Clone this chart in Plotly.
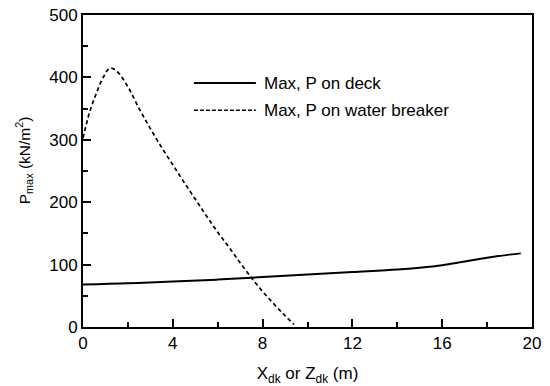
import plotly.graph_objects as go

# Data
deck_x = [0, 2, 4, 6, 8, 10, 12, 14, 15, 16, 17, 18, 19, 19.5]
deck_p = [68, 70, 73, 76, 80, 84, 88, 92, 95, 99, 105, 111, 116, 118]

wb_x = [0, 0.3, 0.6, 0.9, 1.2, 1.5, 2, 2.5, 3, 3.5, 4, 4.5, 5, 5.5, 6, 6.5, 7, 7.5, 8, 8.5, 9, 9.4]
wb_p = [303, 345, 375, 400, 415, 410, 385, 350, 318, 288, 260, 232, 205, 178, 152, 128, 103, 79, 57, 37, 18, 4]

legend_labels = ["Max, P on deck", "Max, P on water breaker"]
x_ticks = [0, 4, 8, 12, 16, 20]
y_ticks = [0, 100, 200, 300, 400, 500]

FONT = "Liberation Sans, Arial, sans-serif"

fig = go.Figure()
fig.add_trace(go.Scatter(x=deck_x, y=deck_p, mode="lines", name=legend_labels[0],
                         line=dict(color="black", width=2), line_shape="spline", showlegend=False))
fig.add_trace(go.Scatter(x=wb_x, y=wb_p, mode="lines", name=legend_labels[1],
                         line=dict(color="black", width=1.7, dash="4px,3px"), line_shape="spline",
                         showlegend=False))

# manual legend
legend_rows = [(0.782, "solid", 2), (0.695, "4px,2px", 1.5)]
for (yy, dash, w), label in zip(legend_rows, legend_labels):
    fig.add_shape(type="line", xref="paper", yref="paper", x0=0.247, x1=0.385, y0=yy, y1=yy,
                  line=dict(color="black", width=w, dash=dash))
    fig.add_annotation(xref="paper", yref="paper", x=0.398, y=yy, text=label, showarrow=False,
                       xanchor="left", yanchor="middle", font=dict(size=17, color="black", family=FONT))

# y-axis title (placed as in the reference, slightly above centre)
fig.add_annotation(xref="paper", yref="paper", x=-0.131, y=0.535, textangle=-90,
                   text="P<sub>max</sub> (kN/m<sup>2</sup>)", showarrow=False,
                   xanchor="center", yanchor="middle",
                   font=dict(size=15.5, color="black", family=FONT))

axis_common = dict(showgrid=False, zeroline=False, showline=True, linecolor="black", linewidth=2,
                   mirror=True, ticks="inside", tickcolor="black", tickwidth=2, ticklen=8,
                   automargin=False,
                   tickfont=dict(size=17, color="black", family=FONT))

fig.update_xaxes(range=[0, 20], tickvals=x_ticks, ticktext=[str(v) for v in x_ticks],
                 minor=dict(ticks="inside", dtick=2, ticklen=5, tickwidth=2, tickcolor="black"),
                 title=dict(text="X<sub>dk</sub> or Z<sub>dk</sub> (m)",
                            font=dict(size=17, color="black", family=FONT)),
                 **axis_common)
fig.update_yaxes(range=[0, 500], tickvals=y_ticks, ticktext=[str(v) for v in y_ticks],
                 minor=dict(ticks="inside", dtick=50, ticklen=5, tickwidth=2, tickcolor="black"),
                 **axis_common)

fig.update_layout(width=550, height=386, margin=dict(l=83, r=18, t=15, b=59),
                  paper_bgcolor="white", plot_bgcolor="white",
                  font=dict(family=FONT, color="black"))

fig.write_html("out.html")
